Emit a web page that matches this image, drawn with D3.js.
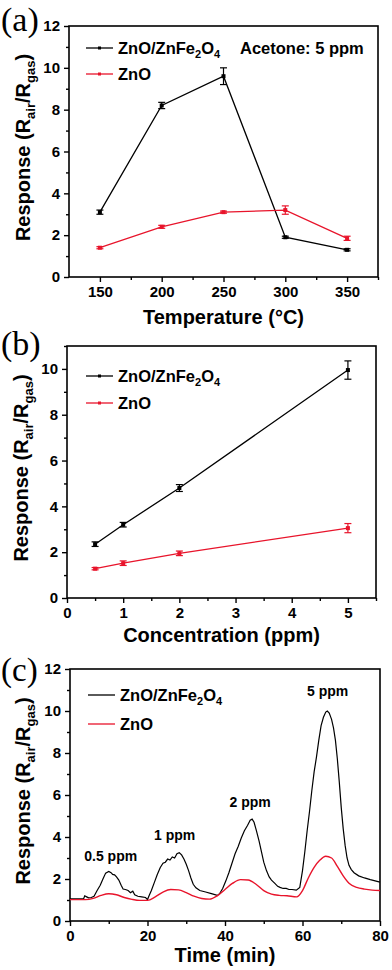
<!DOCTYPE html>
<html><head><meta charset="utf-8">
<script src="https://cdn.jsdelivr.net/npm/d3@7"></script>
<style>html,body{margin:0;padding:0;background:#fff;}svg{display:block;}</style>
</head><body>
<script>
// ---- Data ----
const tempCats = [150, 200, 250, 300, 350];
const tempComposite = [3.1, 8.2, 9.6, 1.9, 1.3];
const tempCompositeErr = [0.1, 0.15, 0.4, 0.05, 0.05];
const tempZnO = [1.4, 2.4, 3.1, 3.2, 1.85];
const tempZnOErr = [0.05, 0.07, 0.05, 0.2, 0.1];

const concCats = [0.5, 1, 2, 5];
const concComposite = [2.35, 3.2, 4.8, 9.95];
const concCompositeErr = [0.1, 0.1, 0.15, 0.4];
const concZnO = [1.28, 1.52, 1.95, 3.05];
const concZnOErr = [0.05, 0.1, 0.1, 0.2];

const timeComposite = [0,2,3.5,3.8,4.3,4.8,5.5,6.2,7,7.8,8.5,9.2,10,10.6,11,11.5,12,12.6,13.2,13.7,14.3,15,15.6,16.2,16.7,17.5,18.5,19.5,20,20.4,21,21.8,22.5,23.3,24,24.6,25.2,25.8,26.4,27,27.6,28.2,28.8,29.4,30,30.6,31.2,31.8,32.5,33.5,35,36.5,38,38.6,39.4,40.2,41,41.8,42.6,43.4,44.2,45,45.8,46.5,47,47.5,48.1,48.8,49.4,50,50.7,51.4,52,52.8,53.6,54.2,55,55.8,56.5,57.3,58.4,59.3,60,60.6,61.2,61.8,62.4,63,63.6,64.2,64.8,65.4,66,66.4,66.9,67.5,68,68.5,69,69.5,70,70.5,71,71.5,72,72.6,73.3,74.5,76,77.5,79,80];
const respComposite = [1.05,1.05,1.05,1.2,1.15,1.1,1.12,1.18,1.45,1.7,2.0,2.28,2.36,2.3,2.22,2.2,2.1,1.95,1.7,1.52,1.5,1.45,1.35,1.42,1.25,1.18,1.15,1.12,1.02,1.2,1.45,1.85,2.2,2.55,2.75,2.8,2.95,2.9,3.05,3.0,3.2,3.25,3.15,2.95,2.7,2.4,2.05,1.75,1.58,1.45,1.38,1.3,1.22,1.3,1.55,1.9,2.3,2.75,3.2,3.55,3.95,4.3,4.55,4.8,4.85,4.7,4.3,3.8,3.3,2.8,2.4,2.1,1.95,1.8,1.65,1.6,1.55,1.55,1.5,1.5,1.47,1.6,2.4,3.3,4.3,5.2,6.2,7.1,7.8,8.6,9.3,9.7,9.95,10.0,9.9,9.6,9.2,8.6,7.7,6.6,5.4,4.4,3.6,3.0,2.65,2.45,2.3,2.15,2.05,1.97,1.9,1.85];
const timeZnO = [0,4,6,8,10,12,14,16,18,20,22,24,26,28,30,32,34,36,38,40,42,44,46,48,50,52,54,56,58.5,60,61.5,63,64.5,66,67.5,69,70.5,72,74,76,78,80];
const respZnO = [1.02,1.02,1.08,1.22,1.3,1.25,1.12,1.03,0.98,0.98,1.15,1.38,1.5,1.48,1.35,1.18,1.07,1.04,1.2,1.5,1.8,1.97,1.95,1.75,1.45,1.28,1.22,1.2,1.15,1.45,2.05,2.55,2.9,3.08,3.0,2.6,2.15,1.8,1.6,1.52,1.47,1.45];

const seriesNames = ["ZnO/ZnFe2O4", "ZnO"];
const seriesColors = ["#000000", "#e8142b"];
const peakLabels = ["0.5 ppm", "1 ppm", "2 ppm", "5 ppm"];
const peakTimes = [10.5, 27, 46.5, 66.5];
const peakLabelValues = [2.85, 3.85, 5.45, 10.7];

// ---- Drawing ----
const W = 392, H = 970;
const svg = d3.select("body").append("svg").attr("width", W).attr("height", H);
const FONT = "'Liberation Sans', Arial, sans-serif";

function panel(o) {
  const x = d3.scaleLinear().domain(o.xDomain).range([o.left, o.right]);
  const y = d3.scaleLinear().domain(o.yDomain).range([o.bottom, o.top]);
  const g = svg.append("g");
  const xAx = d3.axisBottom(x).tickValues(o.xTicks).tickSize(5).tickPadding(4).tickFormat(d3.format("d"));
  const yAx = d3.axisLeft(y).tickValues(o.yTicks).tickSize(5).tickPadding(4).tickFormat(d3.format("d"));
  g.append("g").attr("transform", `translate(0,${o.bottom})`).call(xAx);
  g.append("g").attr("transform", `translate(${o.left},0)`).call(yAx);
  g.append("g").attr("transform", `translate(0,${o.bottom})`).call(d3.axisBottom(x).tickValues(o.xMinor).tickSize(3).tickFormat(""));
  g.append("g").attr("transform", `translate(${o.left},0)`).call(d3.axisLeft(y).tickValues(o.yMinor).tickSize(3).tickFormat(""));
  g.selectAll(".domain").remove();
  g.selectAll(".tick line").attr("stroke", "#000").attr("stroke-width", 1.4);
  g.selectAll(".tick text").attr("font-family", FONT).attr("font-weight", "bold").attr("font-size", 15).attr("fill", "#000");
  g.append("rect").attr("x", o.left).attr("y", o.top).attr("width", o.right - o.left).attr("height", o.bottom - o.top)
    .attr("fill", "none").attr("stroke", "#000").attr("stroke-width", 1.6);
  g.append("text").attr("x", (o.left + o.right) / 2).attr("y", o.xTitleY).attr("text-anchor", "middle")
    .attr("font-family", FONT).attr("font-weight", "bold").attr("font-size", 20).text(o.xTitle);
  const yt = g.append("text").attr("transform", `translate(${o.yTitleX},${(o.top + o.bottom) / 2 - 4}) rotate(-90)`)
    .attr("text-anchor", "middle").attr("font-family", FONT).attr("font-weight", "bold").attr("font-size", 20);
  yt.append("tspan").text("Response (R");
  yt.append("tspan").attr("font-size", 13).attr("dy", 5).text("air");
  yt.append("tspan").attr("dy", -5).text("/R");
  yt.append("tspan").attr("font-size", 13).attr("dy", 5).text("gas");
  yt.append("tspan").attr("dy", -5).text(")");
  g.append("text").attr("x", 1).attr("y", o.letterY).attr("font-family", "'Liberation Serif', 'Times New Roman', serif")
    .attr("font-size", o.letterSize || 34).text(o.letter);
  return {x, y, g};
}

function legend(g, x0, y0, dy, withMarker) {
  seriesNames.forEach((name, i) => {
    const yy = y0 + i * dy;
    g.append("line").attr("x1", x0).attr("x2", x0 + 27).attr("y1", yy).attr("y2", yy)
      .attr("stroke", seriesColors[i]).attr("stroke-width", 1.3);
    if (withMarker) g.append("rect").attr("x", x0 + 12).attr("y", yy - 1.5).attr("width", 3).attr("height", 3).attr("fill", seriesColors[i]);
    const t = g.append("text").attr("x", x0 + 32).attr("y", yy + 6).attr("font-family", FONT).attr("font-weight", "bold").attr("font-size", 16.5);
    if (i === 0) {
      t.append("tspan").text("ZnO/ZnFe");
      t.append("tspan").attr("font-size", 11).attr("dy", 4).text("2");
      t.append("tspan").attr("dy", -4).text("O");
      t.append("tspan").attr("font-size", 11).attr("dy", 4).text("4");
    } else t.text(name);
  });
}

function pointSeries(p, xs, ys, errs, color) {
  const pts = xs.map((v, i) => ({x: v, y: ys[i], e: errs[i]}));
  p.g.append("path").datum(pts).attr("fill", "none").attr("stroke", color).attr("stroke-width", 1.3)
    .attr("d", d3.line().x(d => p.x(d.x)).y(d => p.y(d.y)));
  const eb = p.g.append("g").attr("stroke", color).attr("stroke-width", 1.2);
  pts.forEach(d => {
    const cx = p.x(d.x), y1 = p.y(d.y + d.e), y2 = p.y(d.y - d.e);
    eb.append("line").attr("x1", cx).attr("x2", cx).attr("y1", y1).attr("y2", y2);
    eb.append("line").attr("x1", cx - 3.5).attr("x2", cx + 3.5).attr("y1", y1).attr("y2", y1);
    eb.append("line").attr("x1", cx - 3.5).attr("x2", cx + 3.5).attr("y1", y2).attr("y2", y2);
  });
  p.g.append("g").selectAll("rect").data(pts).join("rect")
    .attr("x", d => p.x(d.x) - 2).attr("y", d => p.y(d.y) - 2).attr("width", 4).attr("height", 4).attr("fill", color);
}

// Panel (a)
const pa = panel({left: 69, right: 378, top: 26, bottom: 277, xDomain: [125, 375], yDomain: [0, 12],
  xTicks: tempCats, xMinor: [175, 225, 275, 325, 375], yTicks: [0, 2, 4, 6, 8, 10, 12], yMinor: [1, 3, 5, 7, 9, 11],
  xTitle: "Temperature (°C)", xTitleY: 324, yTitleX: 30, letter: "(a)", letterY: 31});
pointSeries(pa, tempCats, tempComposite, tempCompositeErr, seriesColors[0]);
pointSeries(pa, tempCats, tempZnO, tempZnOErr, seriesColors[1]);
legend(pa.g, 86, 48, 26, true);
pa.g.append("text").attr("x", 240).attr("y", 54).attr("font-family", FONT).attr("font-weight", "bold").attr("font-size", 16.5).text("Acetone: 5 ppm");

// Panel (b)
const pb = panel({left: 67, right: 376, top: 346, bottom: 598, xDomain: [0, 5.5], yDomain: [0, 11],
  xTicks: [0, 1, 2, 3, 4, 5], xMinor: [0.5, 1.5, 2.5, 3.5, 4.5, 5.5], yTicks: [0, 2, 4, 6, 8, 10], yMinor: [1, 3, 5, 7, 9, 11],
  xTitle: "Concentration (ppm)", xTitleY: 642, yTitleX: 28, letter: "(b)", letterY: 355});
pointSeries(pb, concCats, concComposite, concCompositeErr, seriesColors[0]);
pointSeries(pb, concCats, concZnO, concZnOErr, seriesColors[1]);
legend(pb.g, 86, 376, 27, true);

// Panel (c)
const pc = panel({left: 70, right: 380, top: 669, bottom: 921, xDomain: [0, 80], yDomain: [0, 12],
  xTicks: [0, 20, 40, 60, 80], xMinor: [10, 30, 50, 70], yTicks: [0, 2, 4, 6, 8, 10, 12], yMinor: [1, 3, 5, 7, 9, 11],
  xTitle: "Time (min)", xTitleY: 962, yTitleX: 30, letter: "(c)", letterY: 681, letterSize: 33});
const lineC = d3.line().x(d => pc.x(d[0])).y(d => pc.y(d[1]));
pc.g.append("path").datum(timeComposite.map((t, i) => [t, respComposite[i]])).attr("fill", "none")
  .attr("stroke", seriesColors[0]).attr("stroke-width", 1.2).attr("d", lineC);
pc.g.append("path").datum(timeZnO.map((t, i) => [t, respZnO[i]])).attr("fill", "none")
  .attr("stroke", seriesColors[1]).attr("stroke-width", 1.4).attr("d", d3.line().curve(d3.curveMonotoneX).x(d => pc.x(d[0])).y(d => pc.y(d[1])));
legend(pc.g, 88, 695, 29, false);
peakLabels.forEach((l, i) => {
  pc.g.append("text").attr("x", pc.x(peakTimes[i])).attr("y", pc.y(peakLabelValues[i])).attr("text-anchor", "middle")
    .attr("font-family", FONT).attr("font-weight", "bold").attr("font-size", 14).text(l);
});
</script>
</body></html>
